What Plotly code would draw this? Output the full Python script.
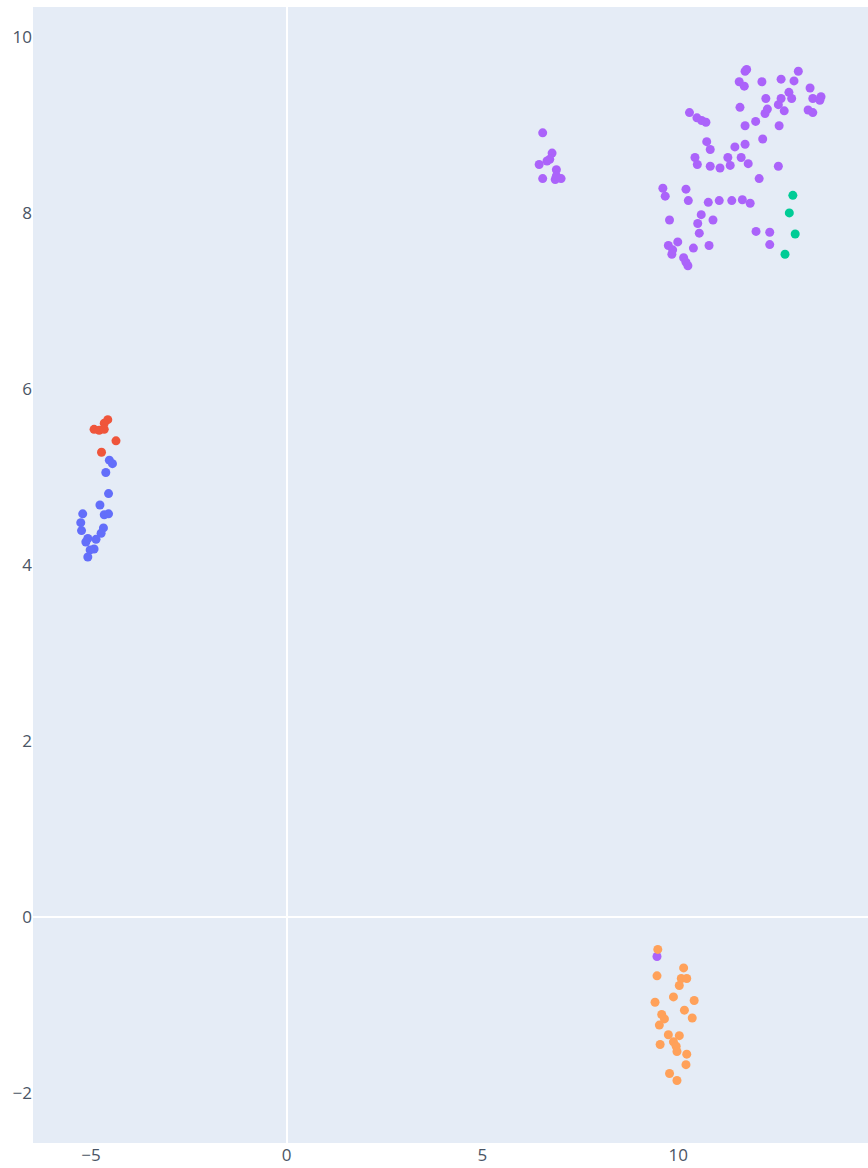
import plotly.graph_objects as go

blue_x = [-4.53, -4.45, -4.62, -4.55, -4.77, -4.66, -4.55, -5.21, -5.26, -5.24, -4.68, -4.74, -5.08, -5.13, -4.87, -4.92, -5.02, -5.08]
blue_y = [5.19, 5.15, 5.05, 4.81, 4.68, 4.57, 4.58, 4.58, 4.48, 4.39, 4.42, 4.36, 4.30, 4.26, 4.29, 4.18, 4.17, 4.09]

red_x = [-4.57, -4.66, -4.92, -4.79, -4.66, -4.36, -4.73]
red_y = [5.65, 5.61, 5.54, 5.53, 5.54, 5.41, 5.28]

green_x = [12.93, 12.84, 12.99, 12.73]
green_y = [8.20, 8.00, 7.76, 7.53]

purple_x = [
    9.46,
    6.54, 6.78, 6.72, 6.65, 6.45, 6.89, 6.54, 6.86, 7.01, 6.89,
    11.75, 11.71, 13.07, 11.56, 11.69, 12.14, 12.63, 12.96, 13.37, 13.44,
    13.65, 13.62, 12.83, 12.90, 12.63, 12.24, 12.56, 12.71, 12.28, 12.22,
    13.32, 13.44, 11.58, 10.29, 10.48, 10.60, 10.71, 11.98, 11.71, 12.58,
    10.73, 10.82, 12.16, 11.71, 11.45, 10.43, 10.49, 10.82, 11.07, 11.27,
    11.33, 11.61, 11.79, 12.56, 12.07, 9.61, 10.20, 9.67, 10.26, 10.77,
    11.05, 11.37, 11.64, 11.84, 9.78, 10.59, 10.89, 10.50, 10.54, 11.99,
    12.34, 12.34, 9.75, 9.99, 9.86, 9.84, 10.39, 10.79, 10.14, 10.25, 10.20,
]
purple_y = [
    -0.45,
    8.91, 8.68, 8.61, 8.59, 8.55, 8.49, 8.39, 8.38, 8.39, 8.42,
    9.63, 9.61, 9.61, 9.49, 9.44, 9.49, 9.52, 9.50, 9.42, 9.30,
    9.32, 9.28, 9.37, 9.30, 9.30, 9.30, 9.23, 9.16, 9.18, 9.13,
    9.17, 9.14, 9.20, 9.14, 9.08, 9.05, 9.03, 9.04, 8.99, 8.99,
    8.81, 8.72, 8.84, 8.78, 8.75, 8.63, 8.55, 8.53, 8.51, 8.63,
    8.54, 8.63, 8.56, 8.53, 8.39, 8.28, 8.27, 8.19, 8.14, 8.12,
    8.14, 8.14, 8.15, 8.11, 7.92, 7.98, 7.92, 7.88, 7.77, 7.79,
    7.78, 7.64, 7.63, 7.67, 7.58, 7.53, 7.60, 7.63, 7.49, 7.40, 7.44,
]

orange_x = [9.48, 10.14, 9.46, 10.08, 10.22, 10.03, 9.41, 10.41, 9.88, 10.16, 10.36, 9.58,
            9.65, 9.52, 9.75, 10.03, 9.88, 9.95, 9.97, 9.54, 10.22, 10.20, 9.78, 9.97]
orange_y = [-0.37, -0.58, -0.67, -0.70, -0.70, -0.78, -0.97, -0.95, -0.91, -1.06, -1.15, -1.11,
            -1.16, -1.23, -1.34, -1.35, -1.42, -1.47, -1.53, -1.45, -1.56, -1.68, -1.78, -1.86]

series = [
    ("0", blue_x, blue_y, "#636efa"),
    ("1", red_x, red_y, "#EF553B"),
    ("2", green_x, green_y, "#00cc96"),
    ("3", purple_x, purple_y, "#ab63fa"),
    ("4", orange_x, orange_y, "#FFA15A"),
]

fig = go.Figure()
for name, xs, ys, col in series:
    fig.add_trace(go.Scatter(x=xs, y=ys, mode="markers", name=name,
                             marker=dict(color=col, size=9, line=dict(width=0))))

fig.update_layout(
    template="plotly",
    width=868, height=1168,
    margin=dict(l=33, r=0, t=7, b=25, autoexpand=False),
    showlegend=False,
    font=dict(family="Open Sans", size=17, color="#4a5565"),
    xaxis=dict(range=[-6.48, 14.85], showgrid=False, zeroline=True,
               zerolinecolor="white", zerolinewidth=2, dtick=5, automargin=False),
    yaxis=dict(range=[-2.57, 10.34], showgrid=False, zeroline=True,
               zerolinecolor="white", zerolinewidth=2, dtick=2, automargin=False),
)

fig.write_html(
    "out.html",
    config={"displayModeBar": False},
    post_script="document.body.style.margin='0';document.body.style.overflow='hidden';",
)
